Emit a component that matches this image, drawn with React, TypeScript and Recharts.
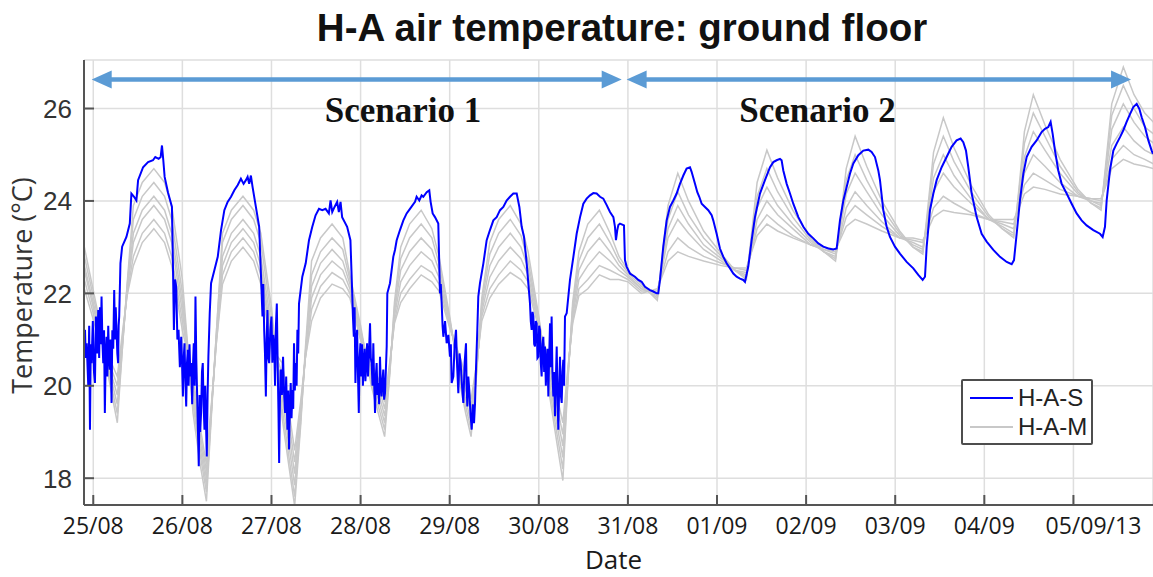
import React from 'react';
import {
  LineChart,
  Line,
  XAxis,
  YAxis,
  CartesianGrid,
  Legend,
  ReferenceLine,
  ReferenceDot,
} from 'recharts';

// ---------- axes ----------
const X_TICKS = [0, 1, 2, 3, 4, 5, 6, 7, 8, 9, 10, 11];
const X_TICK_LABELS = ['25/08', '26/08', '27/08', '28/08', '29/08', '30/08', '31/08', '01/09', '02/09', '03/09', '04/09', '05/09/13'];
const Y_TICKS = [18, 20, 22, 24, 26];
const X_DOMAIN: [number, number] = [-0.104, 11.893];
const Y_DOMAIN: [number, number] = [17.42, 27.05];

const TITLE = 'H-A air temperature: ground floor';
const X_LABEL = 'Date';
const Y_LABEL = 'Temperature (°C)';
const SERIES_NAMES = ['H-A-S', 'H-A-M'];
const SCENARIO_LABELS = ['Scenario 1', 'Scenario 2'];

// annotation anchors (days since 25/08, °C)
const ARROW_Y = 26.63;
const ARROW_1: [number, number] = [-0.018, 5.93];
const ARROW_2: [number, number] = [5.986, 11.647];
const SCENARIO_X = [3.476, 8.128];
const SCENARIO_Y = 25.7;

// ---------- H-A-S (measured) : [day, °C] ----------
const HAS_POINTS: [number, number][] = [
  // night 25/08
  [-0.093, 21.21], [-0.084, 20.6], [-0.074, 20.92], [-0.056, 20.0], [-0.046, 21.3], [-0.037, 19.05], [-0.028, 20.9], [-0.019, 20.49], [-0.005, 21.4], [0.008, 20.3],
  [0.019, 20.06], [0.03, 21.5], [0.042, 20.7], [0.056, 21.64], [0.066, 20.6], [0.075, 21.7], [0.084, 20.9], [0.093, 21.93], [0.102, 21.0], [0.112, 20.49],
  [0.121, 21.2], [0.13, 19.41], [0.14, 20.7], [0.149, 21.06], [0.158, 20.2], [0.168, 21.3], [0.177, 20.6], [0.186, 20.35], [0.195, 21.0], [0.205, 19.63],
  [0.214, 21.2], [0.224, 20.8], [0.235, 22.07], [0.244, 21.0], [0.252, 21.7], [0.261, 21.21], [0.27, 20.7], [0.279, 20.49], [0.285, 21.3], [0.291, 21.5],
  // day 25/08
  [0.305, 22.65], [0.324, 23.01], [0.372, 23.22], [0.41, 23.51], [0.428, 24.16], [0.458, 24.09], [0.484, 24.01], [0.503, 24.45], [0.559, 24.73], [0.615, 24.84],
  [0.67, 24.88], [0.696, 24.95], [0.734, 24.91], [0.756, 24.95], [0.771, 25.2], [0.786, 24.88], [0.801, 24.52], [0.838, 24.19], [0.883, 23.87], [0.894, 22.65],
  // night 26/08
  [0.905, 21.21], [0.918, 22.3], [0.931, 22.14], [0.944, 21.0], [0.957, 21.21], [0.972, 20.4], [0.987, 21.06], [0.996, 20.5], [1.006, 19.77], [1.015, 20.6],
  [1.024, 20.92], [1.034, 20.1], [1.043, 19.55], [1.052, 20.5], [1.061, 20.78], [1.07, 20.0], [1.08, 20.9], [1.09, 20.2], [1.099, 20.49], [1.11, 19.6],
  [1.12, 20.5], [1.128, 20.92], [1.138, 20.0], [1.147, 21.93], [1.156, 20.6], [1.166, 19.77], [1.175, 19.0], [1.184, 18.26], [1.193, 19.8], [1.2, 19.0],
  [1.21, 19.41], [1.22, 20.3], [1.229, 20.49], [1.238, 19.6], [1.248, 19.05], [1.256, 20.0], [1.265, 19.2], [1.274, 18.47], [1.283, 19.8], [1.292, 20.63],
  // day 26/08
  [1.307, 21.57], [1.322, 22.22], [1.359, 22.5], [1.397, 22.79], [1.434, 23.37], [1.471, 23.8], [1.508, 23.98], [1.546, 24.09], [1.583, 24.23], [1.62, 24.34],
  [1.657, 24.48], [1.687, 24.37], [1.713, 24.45], [1.732, 24.52], [1.75, 24.37], [1.769, 24.55], [1.788, 24.3], [1.825, 23.87], [1.862, 23.44],
  // night 27/08
  [1.899, 21.5], [1.908, 22.2], [1.918, 21.21], [1.927, 20.7], [1.937, 19.77], [1.946, 21.0], [1.955, 21.64], [1.965, 20.6], [1.974, 20.49], [1.987, 21.2],
  [2.0, 21.5], [2.01, 20.5], [2.02, 21.1], [2.03, 20.92], [2.04, 20.0], [2.05, 21.3], [2.06, 21.78], [2.07, 20.4], [2.078, 19.5], [2.086, 18.33],
  [2.095, 19.7], [2.104, 20.35], [2.117, 19.8], [2.13, 20.63], [2.14, 19.9], [2.153, 19.41], [2.165, 20.2], [2.179, 19.05], [2.188, 19.9], [2.197, 18.62],
  [2.206, 19.5], [2.216, 20.06], [2.225, 19.3], [2.235, 19.91], [2.244, 19.5], [2.253, 20.92], [2.262, 19.9], [2.272, 20.49], [2.282, 20.0], [2.291, 21.21],
  [2.3, 20.7], [2.309, 21.78],
  // day 27/08
  [2.346, 22.36], [2.384, 22.65], [2.421, 23.15], [2.458, 23.44], [2.495, 23.69], [2.533, 23.83], [2.57, 23.8], [2.607, 23.83], [2.644, 23.73], [2.663, 24.01],
  [2.682, 23.76], [2.708, 23.87], [2.737, 23.98], [2.756, 23.76], [2.775, 23.98], [2.793, 23.65], [2.849, 23.44], [2.886, 23.15], [2.905, 22.07],
  // night 28/08
  [2.914, 21.5], [2.924, 21.06], [2.933, 21.7], [2.942, 20.06], [2.952, 20.9], [2.961, 21.21], [2.97, 20.3], [2.98, 19.41], [2.989, 20.6], [2.998, 20.92],
  [3.008, 20.2], [3.017, 20.9], [3.026, 20.0], [3.035, 20.49], [3.045, 20.8], [3.054, 20.1], [3.064, 20.5], [3.073, 20.92], [3.083, 20.2], [3.092, 20.6],
  [3.106, 21.35], [3.115, 20.6], [3.124, 20.49], [3.134, 20.0], [3.143, 20.92], [3.152, 20.1], [3.162, 19.41], [3.171, 20.2], [3.18, 20.49], [3.19, 19.8],
  [3.199, 20.06], [3.208, 19.6], [3.218, 20.63], [3.227, 20.0], [3.236, 19.77], [3.245, 20.1], [3.255, 20.35], [3.264, 19.7], [3.274, 19.84], [3.283, 20.3],
  [3.293, 20.85],
  // day 28/08
  [3.3, 22.0], [3.33, 22.22], [3.367, 22.79], [3.386, 22.94], [3.405, 23.15], [3.442, 23.37], [3.48, 23.58], [3.517, 23.73], [3.554, 23.83], [3.611, 23.98],
  [3.629, 24.09], [3.659, 24.01], [3.685, 24.12], [3.704, 24.09], [3.742, 24.19], [3.771, 24.23], [3.786, 23.98], [3.809, 23.73], [3.835, 23.65], [3.872, 23.51],
  // night 29/08
  [3.891, 22.0], [3.9, 22.2], [3.91, 21.78], [3.92, 21.3], [3.929, 21.06], [3.948, 21.4], [3.966, 20.92], [3.985, 21.1], [4.003, 20.63], [4.013, 20.9],
  [4.022, 20.06], [4.041, 20.2], [4.056, 20.9], [4.071, 21.21], [4.084, 20.4], [4.097, 19.84], [4.11, 20.7], [4.123, 20.49], [4.138, 20.0], [4.153, 19.63],
  [4.168, 20.5], [4.183, 20.92], [4.19, 20.0], [4.198, 19.55], [4.209, 20.2], [4.22, 19.91], [4.233, 19.4], [4.247, 19.05], [4.26, 19.6], [4.273, 19.19],
  [4.284, 19.6], [4.295, 20.35],
  // day 29/08
  [4.31, 21.21], [4.321, 21.93], [4.34, 22.22], [4.378, 22.65], [4.415, 23.15], [4.452, 23.37], [4.49, 23.58], [4.527, 23.65], [4.565, 23.8], [4.602, 23.87],
  [4.639, 24.01], [4.677, 24.09], [4.714, 24.16], [4.752, 24.16], [4.782, 23.87], [4.808, 23.44], [4.834, 23.22], [4.864, 22.65],
  // night 30/08
  [4.901, 21.78], [4.91, 21.4], [4.92, 21.21], [4.93, 21.6], [4.939, 21.5], [4.948, 20.9], [4.957, 20.85], [4.966, 21.4], [4.976, 21.35], [4.985, 20.6],
  [4.995, 20.63], [5.004, 21.3], [5.013, 21.21], [5.022, 20.5], [5.032, 20.2], [5.041, 20.9], [5.051, 21.06], [5.06, 20.3], [5.07, 20.85], [5.079, 20.0],
  [5.088, 20.49], [5.098, 20.8], [5.107, 19.77], [5.116, 20.6], [5.126, 21.35], [5.135, 20.4], [5.144, 21.5], [5.153, 20.3], [5.163, 19.77], [5.172, 20.3],
  [5.182, 19.34], [5.191, 20.1], [5.201, 20.85], [5.21, 19.8], [5.219, 19.05], [5.228, 19.9], [5.238, 20.63], [5.247, 19.8], [5.257, 19.63], [5.266, 20.3],
  [5.275, 20.56], [5.284, 20.0], [5.294, 21.5],
  // day 30/08
  [5.313, 21.57], [5.35, 22.29], [5.388, 22.79], [5.425, 23.29], [5.463, 23.65], [5.5, 23.94], [5.537, 24.05], [5.575, 24.12], [5.612, 24.17], [5.649, 24.16],
  [5.687, 24.09], [5.724, 24.05], [5.762, 23.91], [5.799, 23.76], [5.837, 23.65], [5.855, 23.44], [5.866, 23.15], [5.881, 23.37], [5.893, 23.48], [5.911, 23.51],
  [5.956, 23.47],
  // scenario 2
  [5.967, 22.72], [5.986, 22.58], [6.023, 22.43], [6.079, 22.36], [6.117, 22.29], [6.154, 22.25], [6.192, 22.14], [6.248, 22.07], [6.285, 22.04], [6.323, 22.0],
  [6.341, 22.0], [6.36, 22.29], [6.397, 23.01], [6.435, 23.58], [6.472, 23.87], [6.51, 24.01], [6.547, 24.16], [6.584, 24.37], [6.622, 24.55], [6.659, 24.7],
  [6.697, 24.73], [6.715, 24.63], [6.753, 24.37], [6.779, 24.19], [6.801, 24.09], [6.828, 23.94], [6.865, 23.87], [6.902, 23.8], [6.94, 23.69], [6.958, 23.58],
  [6.996, 23.29], [7.033, 22.97], [7.071, 22.79], [7.108, 22.65], [7.146, 22.54], [7.183, 22.43], [7.22, 22.36], [7.258, 22.32], [7.295, 22.29], [7.314, 22.25],
  [7.351, 22.58], [7.389, 23.15], [7.426, 23.65], [7.482, 24.16], [7.538, 24.45], [7.595, 24.73], [7.632, 24.84], [7.669, 24.88], [7.707, 24.91], [7.725, 24.88],
  [7.744, 24.66], [7.782, 24.37], [7.819, 24.16], [7.856, 23.94], [7.913, 23.65], [7.969, 23.44], [8.025, 23.29], [8.081, 23.19], [8.137, 23.08], [8.193, 23.01],
  [8.249, 22.97], [8.305, 22.95], [8.343, 22.97], [8.38, 23.58], [8.418, 24.01], [8.455, 24.3], [8.492, 24.59], [8.53, 24.81], [8.586, 24.99], [8.642, 25.09],
  [8.698, 25.11], [8.735, 25.06], [8.773, 24.95], [8.81, 24.66], [8.829, 24.45], [8.866, 23.8], [8.904, 23.44], [8.941, 23.22], [8.997, 23.01], [9.053, 22.86],
  [9.128, 22.68], [9.203, 22.54], [9.259, 22.4], [9.308, 22.29], [9.334, 22.36], [9.353, 23.01], [9.39, 23.8], [9.428, 24.16], [9.465, 24.45], [9.521, 24.73],
  [9.577, 24.95], [9.633, 25.17], [9.689, 25.31], [9.734, 25.35], [9.764, 25.27], [9.794, 25.09], [9.82, 24.73], [9.858, 24.16], [9.914, 23.65], [9.97, 23.29],
  [10.026, 23.12], [10.101, 22.94], [10.176, 22.79], [10.251, 22.68], [10.307, 22.63], [10.333, 22.72], [10.363, 23.29], [10.4, 24.01], [10.438, 24.59], [10.475, 24.95],
  [10.531, 25.17], [10.587, 25.31], [10.643, 25.49], [10.681, 25.56], [10.718, 25.6], [10.744, 25.71], [10.767, 25.45], [10.793, 25.09], [10.83, 24.66], [10.868, 24.37],
  [10.924, 24.16], [10.98, 23.94], [11.036, 23.73], [11.092, 23.58], [11.148, 23.47], [11.223, 23.37], [11.298, 23.29], [11.328, 23.22], [11.354, 23.44], [11.373, 24.01],
  [11.41, 24.66], [11.448, 25.09], [11.485, 25.24], [11.523, 25.38], [11.56, 25.53], [11.597, 25.71], [11.635, 25.88], [11.672, 26.03], [11.71, 26.1], [11.74, 25.99],
  [11.766, 25.81], [11.803, 25.6], [11.841, 25.31], [11.878, 25.09], [11.893, 25.02],
];

// ---------- H-A-M (model runs) : shared time base, one array per run ----------
const HAM_T = [
  -0.1, 0.05, 0.18, 0.27, 0.33, 0.38, 0.45, 0.55, 0.68, 0.8,
  0.88, 1.0, 1.12, 1.2, 1.27, 1.33, 1.38, 1.45, 1.55, 1.68,
  1.8, 1.88, 2.0, 2.12, 2.2, 2.26, 2.33, 2.38, 2.45, 2.55,
  2.68, 2.8, 2.88, 3.0, 3.12, 3.2, 3.27, 3.33, 3.38, 3.45,
  3.55, 3.68, 3.8, 3.88, 4.0, 4.12, 4.18, 4.24, 4.3, 4.36,
  4.45, 4.55, 4.68, 4.8, 4.88, 5.0, 5.12, 5.2, 5.27, 5.33,
  5.38, 5.45, 5.55, 5.68, 5.8, 5.9, 6.0, 6.15, 6.33, 6.38,
  6.45, 6.56, 6.68, 6.85, 7.05, 7.2, 7.33, 7.38, 7.45, 7.56,
  7.68, 7.85, 8.05, 8.2, 8.33, 8.38, 8.45, 8.55, 8.68, 8.85,
  9.05, 9.2, 9.31, 9.36, 9.43, 9.54, 9.66, 9.85, 10.05, 10.2,
  10.33, 10.38, 10.45, 10.55, 10.68, 10.85, 11.05, 11.2, 11.31, 11.36,
  11.43, 11.56, 11.68, 11.8, 11.9,
];
const HAM_1 = [
  23.0, 21.6, 20.1, 19.2, 20.9, 22.2, 23.9, 24.4, 24.7, 24.4,
  23.9, 22.3, 19.4, 18.3, 17.5, 19.5, 21.1, 23.3, 23.8, 24.1,
  23.8, 23.3, 21.7, 19.3, 18.2, 17.4, 19.2, 20.8, 22.7, 23.2,
  23.5, 23.2, 22.4, 21.3, 20.0, 19.4, 18.9, 20.3, 21.8, 23.0,
  23.5, 23.8, 23.4, 22.8, 21.5, 20.0, 19.4, 18.9, 20.2, 21.9,
  23.1, 23.6, 23.9, 23.5, 22.9, 21.5, 19.8, 18.8, 17.95, 20.2,
  21.8, 22.9, 23.5, 23.8, 23.3, 22.8, 22.5, 22.2, 21.85, 22.7,
  23.9, 24.6, 24.0, 23.35, 22.85, 22.5, 22.3, 23.15, 24.4, 25.1,
  24.5, 23.8, 23.2, 22.9, 22.7, 23.5, 24.7, 25.4, 24.75, 24.0,
  23.35, 23.0, 22.85, 23.75, 25.05, 25.8, 25.15, 24.35, 23.7, 23.4,
  23.2, 24.1, 25.5, 26.3, 25.65, 24.9, 24.25, 23.95, 23.8, 24.75,
  26.1, 26.9, 26.3, 25.9, 25.7,
];
const HAM_2 = [
  22.8, 21.5, 20.2, 19.4, 20.9, 22.15, 23.6, 24.1, 24.4, 24.1,
  23.6, 22.0, 19.6, 18.5, 17.7, 19.55, 21.1, 23.1, 23.6, 23.9,
  23.6, 23.1, 21.5, 19.5, 18.4, 17.6, 19.3, 20.7, 22.4, 22.9,
  23.2, 22.95, 22.3, 21.2, 20.1, 19.55, 19.05, 20.35, 21.7, 22.75,
  23.2, 23.5, 23.2, 22.65, 21.45, 20.1, 19.55, 19.05, 20.25, 21.8,
  22.85, 23.3, 23.6, 23.25, 22.7, 21.45, 19.95, 19.0, 18.2, 20.25,
  21.7, 22.7, 23.2, 23.5, 23.1, 22.7, 22.45, 22.15, 21.9, 22.6,
  23.6, 24.2, 23.7, 23.2, 22.8, 22.5, 22.35, 23.05, 24.1, 24.7,
  24.2, 23.65, 23.15, 22.9, 22.75, 23.45, 24.45, 25.0, 24.45, 23.85,
  23.3, 23.0, 22.9, 23.65, 24.8, 25.4, 24.85, 24.2, 23.65, 23.4,
  23.25, 24.05, 25.25, 25.9, 25.4, 24.75, 24.2, 23.95, 23.85, 24.65,
  25.85, 26.5, 26.0, 25.6, 25.45,
];
const HAM_3 = [
  22.6, 21.4, 20.3, 19.6, 21.0, 22.1, 23.3, 23.8, 24.1, 23.8,
  23.3, 21.8, 19.75, 18.65, 17.85, 19.6, 21.0, 22.8, 23.3, 23.6,
  23.3, 22.8, 21.3, 19.75, 18.65, 17.85, 19.4, 20.65, 22.15, 22.65,
  22.95, 22.7, 22.2, 21.2, 20.2, 19.7, 19.2, 20.4, 21.6, 22.5,
  22.9, 23.2, 22.95, 22.5, 21.4, 20.25, 19.7, 19.2, 20.3, 21.7,
  22.6, 23.0, 23.3, 23.0, 22.55, 21.4, 20.1, 19.2, 18.45, 20.3,
  21.6, 22.5, 22.9, 23.2, 22.9, 22.6, 22.4, 22.1, 21.95, 22.55,
  23.4, 23.9, 23.5, 23.05, 22.75, 22.5, 22.4, 22.95, 23.85, 24.3,
  23.9, 23.5, 23.1, 22.9, 22.8, 23.35, 24.15, 24.6, 24.2, 23.7,
  23.25, 23.05, 22.95, 23.55, 24.5, 25.0, 24.55, 24.05, 23.6, 23.45,
  23.3, 23.95, 24.95, 25.5, 25.1, 24.6, 24.15, 24.0, 23.9, 24.55,
  25.55, 26.1, 25.7, 25.4, 25.25,
];
const HAM_4 = [
  22.5, 21.3, 20.4, 19.8, 21.0, 22.05, 23.1, 23.6, 23.9, 23.6,
  23.1, 21.6, 19.9, 18.8, 18.0, 19.6, 21.0, 22.6, 23.1, 23.4,
  23.1, 22.6, 21.1, 20.0, 18.9, 18.1, 19.5, 20.6, 21.9, 22.4,
  22.7, 22.5, 22.1, 21.1, 20.3, 19.85, 19.35, 20.45, 21.5, 22.25,
  22.6, 22.9, 22.7, 22.35, 21.35, 20.4, 19.9, 19.4, 20.35, 21.6,
  22.35, 22.7, 23.0, 22.75, 22.4, 21.35, 20.25, 19.4, 18.7, 20.35,
  21.5, 22.3, 22.6, 22.9, 22.7, 22.5, 22.35, 22.1, 22.0, 22.5,
  23.2, 23.6, 23.3, 22.95, 22.7, 22.5, 22.45, 22.9, 23.6, 24.0,
  23.7, 23.4, 23.05, 22.95, 22.85, 23.25, 23.85, 24.2, 23.9, 23.55,
  23.2, 23.1, 23.0, 23.5, 24.2, 24.6, 24.3, 23.95, 23.6, 23.5,
  23.4, 23.9, 24.6, 25.0, 24.75, 24.4, 24.1, 24.0, 23.95, 24.45,
  25.2, 25.6, 25.3, 25.1, 25.0,
];
const HAM_5 = [
  22.3, 21.2, 20.5, 20.0, 21.1, 22.0, 22.8, 23.3, 23.6, 23.3,
  22.8, 21.4, 20.05, 18.95, 18.15, 19.65, 20.9, 22.4, 22.9, 23.2,
  22.9, 22.4, 21.0, 20.25, 19.15, 18.35, 19.6, 20.6, 21.65, 22.15,
  22.45, 22.3, 22.0, 21.0, 20.4, 20.0, 19.5, 20.5, 21.4, 22.0,
  22.3, 22.6, 22.45, 22.2, 21.3, 20.5, 20.05, 19.55, 20.4, 21.5,
  22.1, 22.4, 22.7, 22.5, 22.25, 21.3, 20.4, 19.6, 18.95, 20.4,
  21.4, 22.1, 22.3, 22.6, 22.5, 22.4, 22.3, 22.05, 22.05, 22.4,
  22.9, 23.2, 23.0, 22.8, 22.65, 22.55, 22.5, 22.85, 23.4, 23.7,
  23.5, 23.25, 23.05, 22.95, 22.9, 23.2, 23.65, 23.9, 23.7, 23.45,
  23.2, 23.15, 23.1, 23.4, 23.85, 24.1, 23.95, 23.75, 23.6, 23.55,
  23.5, 23.85, 24.35, 24.6, 24.45, 24.25, 24.1, 24.05, 24.0, 24.35,
  24.9, 25.2, 25.0, 24.9, 24.8,
];
const HAM_6 = [
  22.1, 21.1, 20.6, 20.2, 21.2, 21.95, 22.6, 23.1, 23.4, 23.1,
  22.6, 21.2, 20.2, 19.1, 18.3, 19.7, 20.9, 22.2, 22.7, 23.0,
  22.7, 22.2, 20.8, 20.5, 19.4, 18.6, 19.7, 20.6, 21.4, 21.9,
  22.2, 22.1, 21.9, 21.0, 20.5, 20.15, 19.65, 20.55, 21.35, 21.8,
  22.1, 22.4, 22.25, 22.05, 21.25, 20.6, 20.2, 19.7, 20.45, 21.4,
  21.9, 22.2, 22.45, 22.3, 22.1, 21.25, 20.55, 19.8, 19.2, 20.45,
  21.35, 21.95, 22.1, 22.4, 22.3, 22.3, 22.25, 22.0, 22.1, 22.35,
  22.7, 22.9, 22.8, 22.7, 22.6, 22.55, 22.55, 22.85, 23.25, 23.5,
  23.35, 23.2, 23.05, 23.0, 22.95, 23.15, 23.45, 23.6, 23.5, 23.35,
  23.2, 23.2, 23.15, 23.35, 23.65, 23.8, 23.75, 23.7, 23.6, 23.6,
  23.6, 23.8, 24.15, 24.3, 24.25, 24.15, 24.1, 24.05, 24.05, 24.3,
  24.7, 24.9, 24.8, 24.75, 24.7,
];
const HAM_RUNS = [HAM_1, HAM_2, HAM_3, HAM_4, HAM_5, HAM_6];

// ---------- styling ----------
const BLUE = '#0000ff';
const GRAY = '#c8c8c8';
const ARROW_COLOR = '#5b9bd5';
const AXIS_COLOR = '#555555';
const GRID_COLOR = '#dedede';
const SANS = '"Liberation Sans", Arial, sans-serif';
const CAL = '"Open Sans", "Noto Sans", sans-serif';
const SERIF = '"Liberation Serif", "Times New Roman", serif';

const hasData = HAS_POINTS.map(([t, v]) => ({ t, v }));
const hamData = HAM_T.map((t, i) => {
  const row: Record<string, number> = { t };
  HAM_RUNS.forEach((run, k) => {
    row[`m${k + 1}`] = run[i];
  });
  return row;
});

const XTick = (props: any) => {
  const { x, y, payload } = props;
  const label = X_TICK_LABELS[payload.value] ?? '';
  const shift = label.length > 5 ? 20 : 0;
  return (
    <g>
      <line x1={x} x2={x} y1={y} y2={y - 10} stroke={AXIS_COLOR} strokeWidth={2} />
      <text x={x + shift} y={y + 29} textAnchor="middle" fontFamily={CAL} fontSize={23} fill="#1a1a1a">
        {label}
      </text>
    </g>
  );
};

const YTick = (props: any) => {
  const { x, y, payload } = props;
  return (
    <g>
      <line x1={x} x2={x + 10} y1={y} y2={y} stroke={AXIS_COLOR} strokeWidth={2} />
      <text x={x - 12} y={y} dy="0.36em" textAnchor="end" fontFamily={SANS} fontSize={26} fill="#333">
        {payload.value}
      </text>
    </g>
  );
};

const XLabel = (props: any) => {
  const vb = props.viewBox || { x: 0, y: 0, width: 0, height: 0 };
  return (
    <text x={vb.x + vb.width / 2 - 5} y={vb.y + 64} textAnchor="middle" fontFamily={CAL} fontSize={26} fill="#1a1a1a">
      {X_LABEL}
    </text>
  );
};

const YLabel = (props: any) => {
  const vb = props.viewBox || { x: 0, y: 0, width: 0, height: 0 };
  const cx = vb.x + 32;
  const cy = vb.y + vb.height / 2 + 3;
  return (
    <text x={cx} y={cy} transform={`rotate(-90, ${cx}, ${cy})`} textAnchor="middle" fontFamily={CAL} fontSize={27} fill="#333">
      {Y_LABEL}
    </text>
  );
};

const headRight = (p: any) => (
  <polygon points={`${p.cx},${p.cy} ${p.cx - 20},${p.cy - 9} ${p.cx - 20},${p.cy + 9}`} fill={ARROW_COLOR} />
);
const headLeft = (p: any) => (
  <polygon points={`${p.cx},${p.cy} ${p.cx + 20},${p.cy - 9} ${p.cx + 20},${p.cy + 9}`} fill={ARROW_COLOR} />
);
const scenarioText = (label: string) => (p: any) => (
  <text x={p.cx} y={p.cy} textAnchor="middle" fontFamily={SERIF} fontWeight="bold" fontSize={35} fill="#111">
    {label}
  </text>
);

const LegendBox = () => (
  <div
    style={{
      position: 'relative',
      boxSizing: 'border-box',
      width: 132,
      height: 66,
      border: '2px solid #4d4d4d',
      borderRadius: 2,
      background: '#fff',
    }}
  >
    {[BLUE, GRAY].map((c, i) => (
      <React.Fragment key={i}>
        <div style={{ position: 'absolute', left: 7, top: 16 + i * 29, width: 43, height: 2, background: c }} />
        <div
          style={{
            position: 'absolute',
            left: 55,
            top: 4 + i * 29,
            lineHeight: '25px',
            fontFamily: SANS,
            fontSize: 24,
            color: '#222',
            whiteSpace: 'nowrap',
          }}
        >
          {SERIES_NAMES[i]}
        </div>
      </React.Fragment>
    ))}
  </div>
);

export default function App() {
  return (
    <div style={{ position: 'absolute', left: 0, top: 0, width: 1153, height: 577, background: '#fff' }}>
      <LineChart width={1153} height={577} margin={{ top: 60, right: 0, bottom: 0, left: 0 }}>
        <CartesianGrid stroke={GRID_COLOR} strokeWidth={1.5} />
        <XAxis
          dataKey="t"
          type="number"
          domain={X_DOMAIN}
          allowDataOverflow
          ticks={X_TICKS}
          interval={0}
          height={72}
          tickSize={0}
          tickMargin={0}
          tickLine={false}
          tick={<XTick />}
          axisLine={{ stroke: AXIS_COLOR, strokeWidth: 2 }}
          label={XLabel}
        />
        <YAxis
          type="number"
          domain={Y_DOMAIN}
          allowDataOverflow
          ticks={Y_TICKS}
          interval={0}
          width={84}
          tickSize={0}
          tickMargin={0}
          tickLine={false}
          tick={<YTick />}
          axisLine={{ stroke: AXIS_COLOR, strokeWidth: 2 }}
          label={YLabel}
        />
        {HAM_RUNS.map((_, k) => (
          <Line
            key={`m${k}`}
            data={hamData}
            dataKey={`m${k + 1}`}
            name={SERIES_NAMES[1]}
            type="linear"
            stroke={GRAY}
            strokeWidth={1.5}
            dot={false}
            activeDot={false}
            isAnimationActive={false}
          />
        ))}
        <Line
          data={hasData}
          dataKey="v"
          name={SERIES_NAMES[0]}
          type="linear"
          stroke={BLUE}
          strokeWidth={2}
          dot={false}
          activeDot={false}
          isAnimationActive={false}
        />
        <ReferenceLine
          segment={[{ x: ARROW_1[0] + 0.2, y: ARROW_Y }, { x: ARROW_1[1] - 0.2, y: ARROW_Y }]}
          stroke={ARROW_COLOR}
          strokeWidth={4.5}
        />
        <ReferenceLine
          segment={[{ x: ARROW_2[0] + 0.2, y: ARROW_Y }, { x: ARROW_2[1] - 0.2, y: ARROW_Y }]}
          stroke={ARROW_COLOR}
          strokeWidth={4.5}
        />
        <ReferenceDot x={ARROW_1[0]} y={ARROW_Y} r={1} shape={headLeft} />
        <ReferenceDot x={ARROW_1[1]} y={ARROW_Y} r={1} shape={headRight} />
        <ReferenceDot x={ARROW_2[0]} y={ARROW_Y} r={1} shape={headLeft} />
        <ReferenceDot x={ARROW_2[1]} y={ARROW_Y} r={1} shape={headRight} />
        <ReferenceDot x={SCENARIO_X[0]} y={SCENARIO_Y} r={1} shape={scenarioText(SCENARIO_LABELS[0])} />
        <ReferenceDot x={SCENARIO_X[1]} y={SCENARIO_Y} r={1} shape={scenarioText(SCENARIO_LABELS[1])} />
        <Legend
          layout="vertical"
          align="center"
          verticalAlign="middle"
          content={() => <LegendBox />}
          wrapperStyle={{ left: 961, top: 379, width: 132, height: 66 }}
        />
      </LineChart>
      <div
        style={{
          position: 'absolute',
          left: 222,
          width: 800,
          top: 9,
          textAlign: 'center',
          fontFamily: SANS,
          fontWeight: 'bold',
          fontSize: 38.5,
          lineHeight: '38.5px',
          color: '#111',
          whiteSpace: 'nowrap',
          pointerEvents: 'none',
        }}
      >
        {TITLE}
      </div>
    </div>
  );
}
